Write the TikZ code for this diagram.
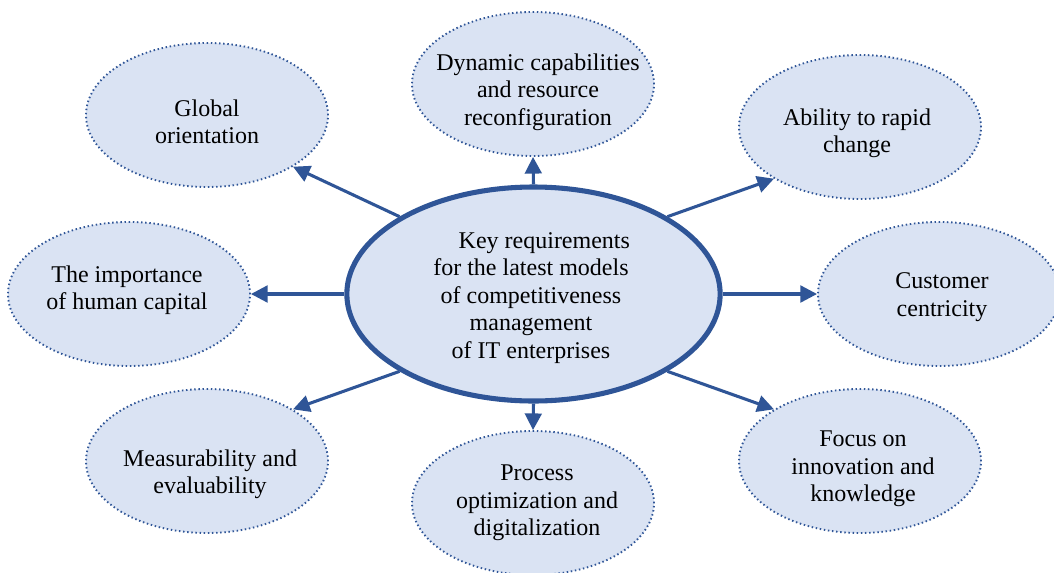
\documentclass[tikz,border=0pt]{standalone}
\usepackage{fontspec}
\setmainfont{Liberation Serif}
\usetikzlibrary{shapes.geometric,arrows.meta}
\definecolor{bfill}{HTML}{DAE3F3}
\definecolor{bline}{HTML}{2F5597}
\begin{document}
\begin{tikzpicture}[x=0.75pt,y=-0.75pt,
  outer/.style={ellipse,draw=bline,fill=bfill,line width=1.4pt,dash pattern=on 1.1pt off 2pt,
    minimum width=181.5pt,minimum height=108pt,inner sep=0pt},
  central/.style={ellipse,draw=bline,fill=bfill,line width=3.8pt,
    minimum width=280pt,minimum height=160.5pt,inner sep=0pt},
  txt/.style={align=center,font=\fontsize{18}{20.6}\selectfont,inner sep=0pt,text=black},
  arr/.style={draw=bline,line width=2.3pt,-{Triangle[length=12.5pt,width=12.5pt]}}]
\clip (0,0) rectangle (1054,572);
\fill[white] (0,0) rectangle (1054,572);
% outer ellipses
\node[outer] (glob) at (207,115) {};
\node[outer] (dyn) at (533,84) {};
\node[outer] (abil) at (860,127) {};
\node[outer] (cust) at (939,294) {};
\node[outer] (focus) at (860,461) {};
\node[outer] (proc) at (533,503) {};
\node[outer] (meas) at (207,461) {};
\node[outer] (hum) at (129,294) {};
% central ellipse
\node[central] (c) at (533.5,294) {};
% texts
\node[txt] (tglob) at (207,122) {Global\\orientation};
\node[txt] (tdyn) at (538,92) {Dynamic capabilities\\and resource\\reconfiguration};
\node[txt] (tabil) at (857,133) {Ability to rapid\\change};
\node[txt] (tcust) at (942,297) {Customer\\centricity};
\node[txt] (tfocus) at (863,469) {Focus on\\innovation and\\knowledge};
\node[txt] (tproc) at (537,503) {Process\\optimization and\\digitalization};
\node[txt] (tmeas) at (210,474) {Measurability and\\evaluability};
\node[txt] (thum) at (127,290) {The importance\\of human capital};
\node[txt] (tc) at (531,298) {\hspace*{20pt}Key requirements\\for the latest models\\of competitiveness\\management\\of IT enterprises};
% arrows
\draw[arr] (c.150) -- (glob.-31);
\draw[arr] (c.90) -- (dyn.-90);
\draw[arr] (c.30) -- (abil.-149);
\draw[arr] (c.0) -- (cust.180);
\draw[arr] (c.-30) -- (focus.149);
\draw[arr] (c.-90) -- (proc.90);
\draw[arr] (c.-150) -- (meas.31);
\draw[arr] (c.180) -- (hum.0);
\end{tikzpicture}
\end{document}
